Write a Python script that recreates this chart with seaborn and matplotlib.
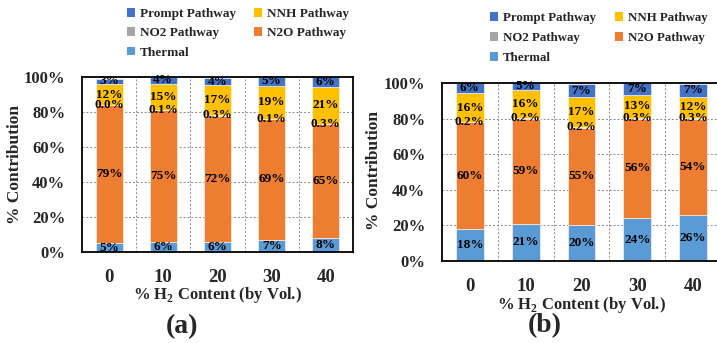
import matplotlib
matplotlib.use("Agg")
import matplotlib.pyplot as plt
import seaborn as sns
import pandas as pd
from matplotlib.patches import Patch

# H2 content in the fuel blend (% by volume)
h2_content = ["0", "10", "20", "30", "40"]

# NO formation pathway contributions (%) - case (a)
thermal_a = [5, 6, 6, 7, 8]
n2o_a = [79, 75, 72, 69, 65]
no2_a = [0.0, 0.1, 0.3, 0.1, 0.3]
nnh_a = [12, 15, 17, 19, 21]
prompt_a = [3, 4, 4, 5, 6]

# NO formation pathway contributions (%) - case (b)
thermal_b = [18, 21, 20, 24, 26]
n2o_b = [60, 59, 55, 56, 54]
no2_b = [0.2, 0.2, 0.2, 0.3, 0.3]
nnh_b = [16, 16, 17, 13, 12]
prompt_b = [6, 5, 7, 7, 7]

pathways = ["Thermal", "N2O Pathway", "NO2 Pathway", "NNH Pathway", "Prompt Pathway"]
colors = {
    "Prompt Pathway": "#4472C4",
    "NNH Pathway": "#FFC000",
    "NO2 Pathway": "#A5A5A5",
    "N2O Pathway": "#ED7D31",
    "Thermal": "#5B9BD5",
}
decimals = {"NO2 Pathway": 1}

sns.set_theme(style="white")
plt.rcParams["font.family"] = ["Liberation Serif", "DejaVu Serif"]
plt.rcParams["font.weight"] = "bold"
plt.rcParams["mathtext.fontset"] = "custom"
plt.rcParams["mathtext.rm"] = "Liberation Serif:bold"
plt.rcParams["mathtext.bf"] = "Liberation Serif:bold"

W, H = 717, 343
fig = plt.figure(figsize=(W / 100, H / 100), dpi=100)


def px_axes(left, top, right, bottom):
    return fig.add_axes([left / W, 1 - bottom / H, (right - left) / W, (bottom - top) / H])


def draw_panel(ax, series):
    df = pd.DataFrame({"h2": h2_content, **series})
    base = [0.0] * len(h2_content)
    for name in pathways:
        sns.barplot(data=df, x="h2", y=name, order=h2_content, bottom=base,
                    color=colors[name], saturation=1, width=0.5,
                    edgecolor="white", linewidth=0.4, ax=ax)
        cont = ax.containers[-1]
        d = decimals.get(name, 0)
        labels = [f"{v:.{d}f}%" for v in df[name]]
        ax.bar_label(cont, labels=labels, label_type="center",
                     fontsize=9.5, fontweight="bold", color="black")
        base = [b + v for b, v in zip(base, df[name])]

    ax.set_xlim(-0.5, len(h2_content) - 0.5)
    ax.set_ylim(0, 100)
    ax.set_yticks([0, 20, 40, 60, 80, 100])
    ax.set_yticklabels([f"{t}%" for t in [0, 20, 40, 60, 80, 100]])
    ax.set_xlabel("")
    ax.set_ylabel("")
    ax.tick_params(axis="both", length=0)
    ax.tick_params(axis="y", pad=12, labelsize=12)
    ax.tick_params(axis="x", pad=12, labelsize=13.5)
    for lab in ax.get_xticklabels() + ax.get_yticklabels():
        lab.set_fontweight("bold")
    # dashed grid: horizontal at the y ticks, vertical between categories
    for y in [20, 40, 60, 80]:
        ax.axhline(y, color="#8a8a8a", lw=0.7, ls=(0, (2, 2)), zorder=0)
    for x in [0.5, 1.5, 2.5, 3.5]:
        ax.axvline(x, color="#8a8a8a", lw=0.7, ls=(0, (2, 2)), zorder=0)
    for s in ax.spines.values():
        s.set_color("black")
        s.set_linewidth(1.3)
        s.set_visible(True)


ax_a = px_axes(82, 77, 353, 252)
draw_panel(ax_a, {"Thermal": thermal_a, "N2O Pathway": n2o_a, "NO2 Pathway": no2_a,
                  "NNH Pathway": nnh_a, "Prompt Pathway": prompt_a})
ax_b = px_axes(442, 83, 721, 261)
draw_panel(ax_b, {"Thermal": thermal_b, "N2O Pathway": n2o_b, "NO2 Pathway": no2_b,
                  "NNH Pathway": nnh_b, "Prompt Pathway": prompt_b})

xlab = r"% H$_\mathbf{2}$ Content (by Vol.)"
fig.text(218 / W, 1 - 295 / H, xlab, ha="center", va="center", fontsize=12, fontweight="bold")
fig.text(582 / W, 1 - 305 / H, xlab, ha="center", va="center", fontsize=12, fontweight="bold")
fig.text(15 / W, 1 - 165 / H, "% Contribution", rotation=90, ha="center", va="center",
         fontsize=12.5, fontweight="bold")
fig.text(374 / W, 1 - 170 / H, "% Contribution", rotation=90, ha="center", va="center",
         fontsize=12.5, fontweight="bold")
fig.text(182 / W, 1 - 327 / H, "(a)", ha="center", va="center", fontsize=20, fontweight="bold")
fig.text(545 / W, 1 - 326 / H, "(b)", ha="center", va="center", fontsize=20, fontweight="bold")

# legend entries in row-major reading order across two columns
legend_order = ["Prompt Pathway", "NO2 Pathway", "Thermal", "NNH Pathway", "N2O Pathway"]
handles = [Patch(facecolor=colors[n], edgecolor="none") for n in legend_order]
for x0, y0, sp, cs, fs in [(127, 8, 0.55, 1.35, 9.5), (490, 12, 0.62, 1.45, 9.3)]:
    fig.legend(handles, legend_order, loc="upper left", bbox_to_anchor=(x0 / W, 1 - y0 / H),
               ncol=2, frameon=False, prop={"weight": "bold", "size": fs},
               handlelength=0.6, handleheight=0.6, handletextpad=0.4,
               columnspacing=cs, labelspacing=sp, borderpad=0, borderaxespad=0)

fig.savefig("out.png", dpi=100)
